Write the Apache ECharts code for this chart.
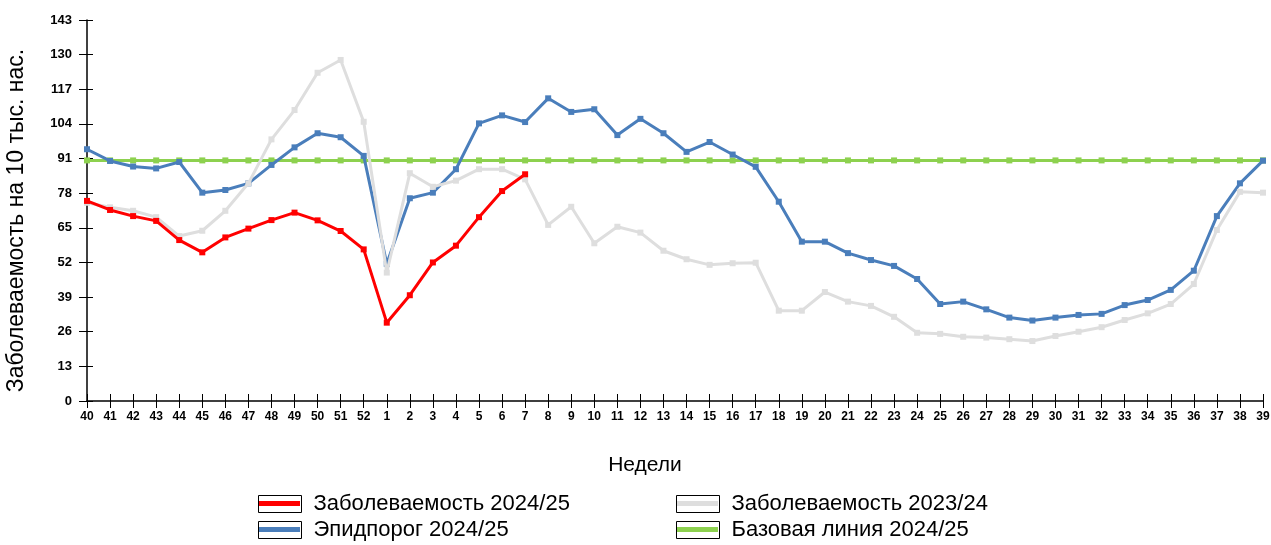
<!DOCTYPE html>
<html><head><meta charset="utf-8">
<script src="https://cdn.jsdelivr.net/npm/echarts@6/dist/echarts.min.js"></script>
<style>html,body{margin:0;padding:0;background:#fff}#c{width:1271px;height:545px}</style>
</head><body><div id="c"></div>
<script>
const weeks = ['40','41','42','43','44','45','46','47','48','49','50','51','52','1','2','3','4','5','6','7','8','9','10','11','12','13','14','15','16','17','18','19','20','21','22','23','24','25','26','27','28','29','30','31','32','33','34','35','36','37','38','39'];
const yTicks = [0,13,26,39,52,65,78,91,104,117,130,143];
const inc2425 = [75.1,71.7,69.4,67.6,60.4,55.8,61.4,64.7,67.9,70.7,67.8,63.8,56.9,29.4,39.7,52.0,58.3,69.0,78.8,85.1];
const inc2324 = [74.4,72.7,71.4,69.0,61.9,63.9,71.4,81.7,98.2,109.2,123.2,128.0,104.8,48.2,85.5,80.4,82.7,87.0,87.0,83.2,66.1,72.9,59.2,65.4,63.2,56.4,53.2,51.1,51.7,51.9,33.9,33.9,40.9,37.3,35.7,31.6,25.6,25.2,24.1,23.8,23.2,22.5,24.4,26.0,27.7,30.4,32.9,36.4,43.9,64.2,78.5,78.2];
const epid2425 = [94.5,90.1,88.0,87.3,89.7,78.2,79.2,81.7,88.6,95.2,100.5,99.0,92.0,51.5,76.1,78.2,87.0,104.2,107.2,104.7,113.6,108.5,109.5,99.8,105.9,100.5,93.5,97.2,92.5,87.9,74.8,59.8,59.8,55.5,52.9,50.7,45.8,36.4,37.3,34.4,31.3,30.2,31.3,32.3,32.7,36.0,37.9,41.7,48.9,69.4,81.7,90.2];
const base2425 = weeks.map(() => 90.3);
const names = ['Заболеваемость 2024/25','Эпидпорог 2024/25','Заболеваемость 2023/24','Базовая линия 2024/25'];
const colors = {red:'#ff0000', blue:'#4a7ebb', gray:'#dedede', green:'#8dd14f'};
const FONT = 'Liberation Sans, Arial';

const chart = echarts.init(document.getElementById('c'), null, {renderer:'canvas'});
const axLine = {lineStyle:{color:'#000', width:1.5}};
function ser(name, data, color, z){
  return {name, type:'line', data, z, symbol:'rect', symbolSize:6, showSymbol:true,
    lineStyle:{color, width:3}, itemStyle:{color}, emphasis:{disabled:true}, animation:false};
}
function leg(name, left, top){
  return {data:[name], orient:'horizontal', left, top, padding:0, itemWidth:43, itemHeight:17, icon:'rect',
    itemStyle:{color:'#fff', borderColor:'#000', borderWidth:1},
    textStyle:{fontFamily:FONT, fontSize:22, color:'#000', padding:[0,0,0,7]}, selectedMode:false};
}
chart.setOption({
  animation:false,
  grid:{left:87, right:8, top:20, bottom:144, containLabel:false, outerBoundsMode:'none'},
  legend:[leg(names[0], 258, 493), leg(names[1], 258, 519), leg(names[2], 676, 493), leg(names[3], 676, 519)],
  graphic:[
    {type:'rect', z:100, shape:{x:259,y:501,width:41,height:5}, style:{fill:colors.red}},
    {type:'rect', z:100, shape:{x:259,y:527,width:41,height:5}, style:{fill:colors.blue}},
    {type:'rect', z:100, shape:{x:677,y:501,width:41,height:5}, style:{fill:colors.gray}},
    {type:'rect', z:100, shape:{x:677,y:527,width:41,height:5}, style:{fill:colors.green}}
  ],
  xAxis:[
    {type:'category', data:weeks, boundaryGap:false, axisLine:axLine,
     axisTick:{show:true, length:7, inside:false, interval:0, lineStyle:{color:'#000'}},
     axisLabel:{interval:0, margin:10, color:'#000', fontWeight:'bold', fontSize:12, fontFamily:FONT},
     name:'Недели', nameLocation:'middle', nameGap:54,
     nameTextStyle:{fontSize:21, color:'#000', fontFamily:FONT, padding:[0,60,0,0]},
     splitLine:{show:false}},
    {type:'category', data:weeks, boundaryGap:false, position:'bottom', axisLine:{show:false},
     axisTick:{show:true, length:7, inside:true, interval:0, lineStyle:{color:'#000'}},
     axisLabel:{show:false}, splitLine:{show:false}}
  ],
  yAxis:[
    {type:'value', min:0, max:143, interval:13, axisLine:{show:true, ...axLine},
     axisTick:{show:true, length:8, lineStyle:{color:'#000'}},
     axisLabel:{margin:15, color:'#000', fontWeight:'bold', fontSize:13, fontFamily:FONT},
     splitLine:{show:false},
     name:'Заболеваемость на 10 тыс. нас.', nameLocation:'middle', nameGap:59,
     nameTextStyle:{fontSize:23, color:'#000', fontFamily:FONT, padding:[0,20,0,0]}},
    {type:'value', min:0, max:143, interval:13, position:'left', axisLine:{show:false},
     axisTick:{show:true, inside:true, length:6, lineStyle:{color:'#000'}},
     axisLabel:{show:false}, splitLine:{show:false}}
  ],
  series:[
    ser(names[3], base2425, colors.green, 2),
    ser(names[1], epid2425, colors.blue, 3),
    ser(names[2], inc2324, colors.gray, 4),
    ser(names[0], inc2425, colors.red, 5)
  ]
});
</script></body></html>
